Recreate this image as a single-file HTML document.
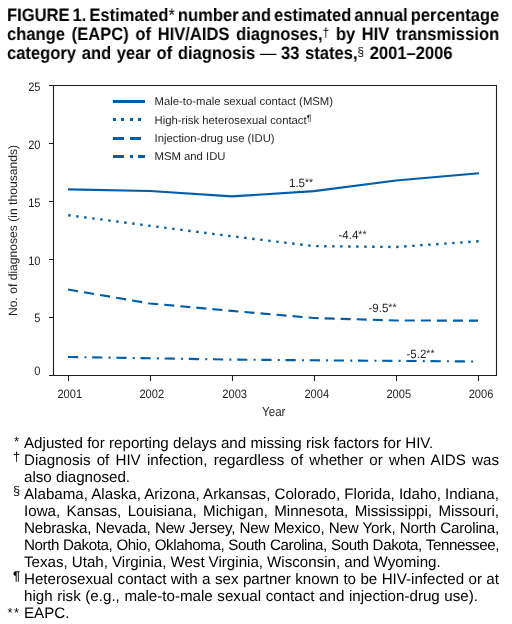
<!DOCTYPE html>
<html><head><meta charset="utf-8">
<style>
html,body{margin:0;padding:0;background:#fff;}
body{width:512px;height:624px;position:relative;overflow:hidden;text-rendering:geometricPrecision;font-family:"Liberation Sans",sans-serif;color:#000;}
.t{will-change:transform;position:absolute;left:7px;font-size:18px;font-weight:bold;line-height:20px;white-space:nowrap;transform:scaleX(0.92);transform-origin:0 0;}
.f{will-change:transform;position:absolute;left:24px;width:475px;font-size:15.15px;line-height:17px;white-space:nowrap;}
svg{position:absolute;left:0;top:0;will-change:transform;}
.s{font-weight:normal;font-size:13px;position:relative;top:-3.3px;}
.s2{font-size:12.7px;top:-3.3px;}
.n2{font-weight:normal;}
.n{font-weight:normal;margin:0 -1.2px 0 -1.1px;}
</style></head><body>
<div class="t" style="top:4.5px;word-spacing:-1.75px">FIGURE 1. Estimated<span class="n2">*</span> number and estimated annual percentage</div>
<div class="t" style="top:23.5px;word-spacing:2.22px">change (EAPC) of HIV/AIDS diagnoses,<span class="s">†</span> by HIV transmission</div>
<div class="t" style="top:42.5px;word-spacing:1.15px">category and year of diagnosis <span class="n">—</span> 33 states,<span class="s s2">§</span> 2001–2006</div>

<svg width="512" height="624" viewBox="0 0 512 624">
<g stroke="#231f20" stroke-width="1.1" fill="none">
<path d="M49 85.5H496.5V375.5H49M53.5 85V375.5"/>
<path d="M49 143.5H53.5M49 201.5H53.5M49 259.5H53.5M49 317.5H53.5"/>
<path d="M68.5 375.5V381M150.5 375.5V381M232.5 375.5V381M314.5 375.5V381M396.5 375.5V381M478.5 375.5V381"/>
</g>
<g id="data" stroke="#005ea9" fill="none" stroke-linejoin="round">
<polyline stroke-width="2.1" points="68,189.4 150,191 232,196.4 314,191.1 396,180.5 479,173.3"/>
<path stroke-width="2.4" d="M68.20 215.23L70.60 215.54M76.20 216.26L78.60 216.57M84.20 217.29L86.60 217.60M92.20 218.33L94.60 218.64M100.20 219.36L102.60 219.67M108.20 220.40L110.60 220.71M116.20 221.43L118.60 221.74M124.20 222.46L126.60 222.78M132.20 223.50L134.60 223.81M140.20 224.53L142.60 224.84M148.20 225.57L150.00 225.80L150.60 225.88M156.20 226.59L158.60 226.90M164.20 227.62L166.60 227.93M172.20 228.64L174.60 228.95M180.20 229.67L182.60 229.97M188.20 230.69L190.60 231.00M196.20 231.72L198.60 232.02M204.20 232.74L206.60 233.05M212.20 233.76L214.60 234.07M220.20 234.79L222.60 235.10M228.20 235.81L230.60 236.12M236.20 236.80L238.60 237.09M244.20 237.76L246.60 238.04M252.20 238.71L254.60 239.00M260.20 239.67L262.60 239.96M268.20 240.63L270.60 240.91M276.20 241.58L278.60 241.87M284.20 242.54L286.60 242.83M292.20 243.49L294.60 243.78M300.20 244.45L302.60 244.74M308.20 245.41L310.60 245.69M316.20 246.12L318.60 246.15M324.20 246.21L326.60 246.24M332.20 246.30L334.60 246.33M340.20 246.39L342.60 246.41M348.20 246.48L350.60 246.50M356.20 246.56L358.60 246.59M364.20 246.65L366.60 246.68M372.20 246.74L374.60 246.77M380.20 246.83L382.60 246.85M388.20 246.91L390.60 246.94M396.20 246.99L398.60 246.82M404.20 246.43L406.60 246.26M412.20 245.87L414.60 245.71M420.20 245.32L422.60 245.15M428.20 244.76L430.60 244.59M436.20 244.21L438.60 244.04M444.20 243.65L446.60 243.48M452.20 243.09L454.60 242.93M460.20 242.54L462.60 242.37M468.20 241.98L470.60 241.81M476.20 241.43L478.00 241.30L478.60 241.30"/>
<path stroke-width="2.15" d="M68.00 289.50L78.00 291.21M84.04 292.24L94.04 293.95M100.08 294.98L110.08 296.68M116.12 297.72L126.12 299.42M132.16 300.45L142.16 302.16M148.20 303.19L150.00 303.50L158.20 304.24M164.24 304.79L174.24 305.69M180.28 306.23L190.28 307.14M196.32 307.68L206.32 308.58M212.36 309.13L222.36 310.03M228.40 310.58L232.00 310.90L238.40 311.45M244.44 311.98L254.44 312.84M260.48 313.37L270.48 314.23M276.52 314.75L286.52 315.62M292.56 316.14L302.56 317.01M308.60 317.53L314.00 318.00L318.60 318.14M324.64 318.32L334.64 318.63M340.68 318.81L350.68 319.12M356.72 319.30L366.72 319.61M372.76 319.79L382.76 320.10M388.80 320.28L396.00 320.50L398.80 320.50M404.84 320.51L414.84 320.52M420.88 320.53L430.88 320.54M436.92 320.55L446.92 320.56M452.96 320.57L462.96 320.58M469.00 320.59L478.00 320.60"/>
<path stroke-width="2.15" d="M68.00 357.00L78.20 357.16M84.40 357.26L86.40 357.29M92.17 357.38L102.37 357.54M108.57 357.64L110.57 357.67M116.34 357.77L126.54 357.93M132.74 358.03L134.74 358.06M140.51 358.15L150.00 358.30L150.71 358.31M156.91 358.41L158.91 358.44M164.68 358.53L174.88 358.69M181.08 358.79L183.08 358.82M188.85 358.92L199.05 359.08M205.25 359.18L207.25 359.21M213.02 359.30L223.22 359.46M229.42 359.56L231.42 359.59M237.19 359.64L247.39 359.73M253.59 359.78L255.59 359.80M261.36 359.85L271.56 359.94M277.76 359.99L279.76 360.01M285.53 360.06L295.73 360.14M301.93 360.20L303.93 360.21M309.70 360.26L314.00 360.30L319.90 360.34M326.10 360.39L328.10 360.40M333.87 360.45L344.07 360.52M350.27 360.57L352.27 360.58M358.04 360.62L368.24 360.70M374.44 360.74L376.44 360.76M382.21 360.80L392.41 360.87M398.61 360.92L400.61 360.93M406.38 360.98L416.58 361.05M422.78 361.10L424.78 361.11M430.55 361.15L440.75 361.23M446.95 361.27L448.95 361.29M454.72 361.33L464.92 361.40M471.12 361.45L473.12 361.46"/>
</g>
<g stroke="#005ea9" stroke-width="3" fill="none">
<path d="M113 101.5H145"/>
<path d="M113 119.5h3M121 119.5h3M130 119.5h3M138 119.5h3"/>
<path d="M113 138.5H124M130 138.5H141"/>
<path d="M113 156.5H124M130 156.5H133M138 156.5H145"/>
</g>
<g font-family="Liberation Sans" font-size="11.32" fill="#231f20">
<text x="154.5" y="104.5">Male-to-male sexual contact (MSM)</text>
<text x="154.5" y="123.8">High-risk heterosexual contact<tspan font-size="9" dy="-3">¶</tspan></text>
<text x="154.5" y="141.8">Injection-drug use (IDU)</text>
<text x="154.5" y="159.6">MSM and IDU</text>
</g>
<g font-family="Liberation Sans" font-size="12.2" fill="#231f20" text-anchor="end" transform="scale(0.91 1)">
<text x="44.51" y="91">25</text>
<text x="44.51" y="149">20</text>
<text x="44.51" y="207">15</text>
<text x="44.51" y="265">10</text>
<text x="44.51" y="322">5</text>
<text x="44.51" y="375">0</text>
</g>
<g font-family="Liberation Sans" font-size="12.2" fill="#231f20" text-anchor="middle" transform="scale(0.91 1)">
<text x="76.70" y="397.7">2001</text>
<text x="166.81" y="397.7">2002</text>
<text x="257.91" y="397.7">2003</text>
<text x="348.13" y="397.7">2004</text>
<text x="438.24" y="397.7">2005</text>
<text x="528.57" y="397.7">2006</text>
</g>
<text transform="translate(262 415.6) scale(0.88 1)" font-family="Liberation Sans" font-size="13.2" fill="#231f20">Year</text>
<text transform="translate(16.9 316) rotate(-90)" font-family="Liberation Sans" font-size="12.12" fill="#231f20">No. of diagnoses (in thousands)</text>
<g font-family="Liberation Sans" font-size="12" fill="#231f20" transform="scale(0.96 1)">
<text x="301.04" y="186.7">1.5<tspan font-size="10.8" dy="-0.6">**</tspan></text>
<text x="352.60" y="238.8">-4.4<tspan font-size="10.8" dy="-0.6">**</tspan></text>
<text x="383.85" y="312">-9.5<tspan font-size="10.8" dy="-0.6">**</tspan></text>
<text x="423.44" y="357.8">-5.2<tspan font-size="10.8" dy="-0.6">**</tspan></text>
</g>
<g font-family="Liberation Sans" fill="#000">
<text x="13.9" y="446.2" font-size="13.5">*</text>
<text x="12.9" y="460.6" font-size="12.9">†</text>
<text x="13" y="494.5" font-size="12.8">§</text>
<text x="13" y="580.3" font-size="12.6" font-weight="bold">¶</text>
<text x="7.6" y="617.1" font-size="13" letter-spacing="1.3">**</text>
</g>
</svg>

<div class="f" style="top:435px">Adjusted for reporting delays and missing risk factors for HIV.</div>
<div class="f" style="top:452px;word-spacing:1.970px">Diagnosis of HIV infection, regardless of whether or when AIDS was</div>
<div class="f" style="top:469px">also diagnosed.</div>
<div class="f" style="top:486px;word-spacing:-0.076px">Alabama, Alaska, Arizona, Arkansas, Colorado, Florida, Idaho, Indiana,</div>
<div class="f" style="top:503px;word-spacing:2.167px">Iowa, Kansas, Louisiana, Michigan, Minnesota, Mississippi, Missouri,</div>
<div class="f" style="top:520px;letter-spacing:-0.2px;word-spacing:0.349px">Nebraska, Nevada, New Jersey, New Mexico, New York, North Carolina,</div>
<div class="f" style="top:537px;letter-spacing:-0.42px;word-spacing:0.383px">North Dakota, Ohio, Oklahoma, South Carolina, South Dakota, Tennessee,</div>
<div class="f" style="top:554px;word-spacing:-0.2px">Texas, Utah, Virginia, West Virginia, Wisconsin, and Wyoming.</div>
<div class="f" style="top:571px;word-spacing:0.183px">Heterosexual contact with a sex partner known to be HIV-infected or at</div>
<div class="f" style="top:588px;word-spacing:0.37px">high risk (e.g., male-to-male sexual contact and injection-drug use).</div>
<div class="f" style="top:605px">EAPC.</div>
</body></html>
